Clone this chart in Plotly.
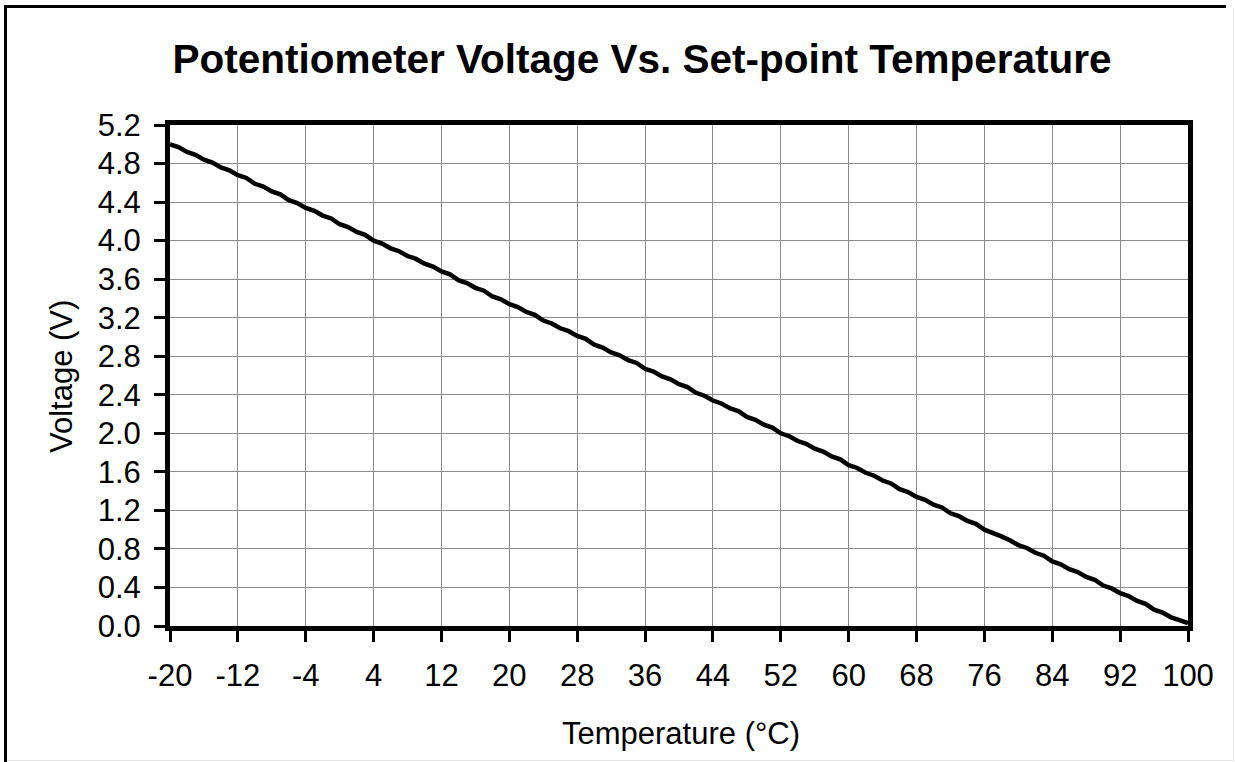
import plotly.graph_objects as go

# Data
temperature_c = list(range(-20, 101))
voltage_v = [
    5.00, 4.97, 4.92, 4.89, 4.84, 4.81, 4.76, 4.73, 4.68, 4.65,
    4.59, 4.56, 4.51, 4.48, 4.42, 4.39, 4.34, 4.31, 4.26, 4.23,
    4.17, 4.14, 4.09, 4.06, 4.00, 3.97, 3.92, 3.89, 3.84, 3.81,
    3.76, 3.73, 3.68, 3.65, 3.59, 3.56, 3.51, 3.48, 3.42, 3.39,
    3.34, 3.31, 3.26, 3.23, 3.17, 3.14, 3.09, 3.06, 3.01, 2.98,
    2.92, 2.89, 2.84, 2.81, 2.76, 2.73, 2.67, 2.64, 2.59, 2.56,
    2.51, 2.48, 2.42, 2.39, 2.34, 2.31, 2.26, 2.23, 2.17, 2.14,
    2.09, 2.06, 2.00, 1.97, 1.92, 1.89, 1.84, 1.81, 1.76, 1.73,
    1.67, 1.64, 1.59, 1.56, 1.51, 1.48, 1.42, 1.39, 1.34, 1.31,
    1.26, 1.23, 1.17, 1.14, 1.09, 1.06, 1.00, 0.97, 0.93, 0.89,
    0.84, 0.81, 0.76, 0.73, 0.67, 0.64, 0.59, 0.56, 0.51, 0.48,
    0.42, 0.39, 0.34, 0.31, 0.26, 0.23, 0.17, 0.14, 0.09, 0.06,
    0.03,
]
x_ticks = list(range(-20, 101, 8))
y_ticks = [round(0.4 * i, 1) for i in range(14)]
y_tick_labels = [f"{v:.1f}" for v in y_ticks]

title_text = "<b>Potentiometer Voltage Vs. Set-point Temperature</b>"
x_title = "Temperature (°C)"
y_title = "Voltage (V)"

FONT = "Arial, 'Liberation Sans', sans-serif"
W, H = 1235, 762
L, R, T, B = 170, 47, 125, 136
pw, ph = W - L - R, H - T - B

def px_x(px):
    return (px - L) / pw

def px_y(py):
    return (H - B - py) / ph

fig = go.Figure()
fig.add_trace(go.Scatter(
    x=temperature_c, y=voltage_v, mode="lines",
    line=dict(color="black", width=4.5),
    showlegend=False, hoverinfo="x+y",
))

fig.update_layout(
    width=W, height=H,
    margin=dict(l=L, r=R, t=T, b=B, pad=0),
    paper_bgcolor="white", plot_bgcolor="white",
    font=dict(family=FONT, size=31, color="black"),
    title=dict(text=title_text, x=642 / W, xanchor="center", xref="container",
               y=1 - 59 / H, yanchor="middle", yref="container",
               font=dict(family=FONT, size=40.5, color="black")),
    xaxis=dict(
        range=[-20, 100], tickmode="array", tickvals=x_ticks,
        ticktext=[str(v) for v in x_ticks],
        showgrid=True, gridcolor="#8c8c8c", gridwidth=1,
        showline=True, linecolor="black", linewidth=5, mirror=True,
        ticks="outside", ticklen=11, tickwidth=3, tickcolor="black",
        ticklabelstandoff=7, zeroline=False,
        tickfont=dict(family=FONT, size=31, color="black"),
    ),
    yaxis=dict(
        range=[0, 5.2], tickmode="array", tickvals=y_ticks, ticktext=y_tick_labels,
        showgrid=True, gridcolor="#8c8c8c", gridwidth=1,
        showline=True, linecolor="black", linewidth=5, mirror=True,
        ticks="outside", ticklen=11, tickwidth=3, tickcolor="black",
        ticklabelstandoff=7, zeroline=False,
        tickfont=dict(family=FONT, size=31, color="black"),
    ),
)

# Axis titles as annotations for precise placement
fig.add_annotation(text=x_title, xref="paper", yref="paper",
                   x=px_x(681), y=px_y(733), xanchor="center", yanchor="middle",
                   showarrow=False, font=dict(family=FONT, size=31, color="black"))
fig.add_annotation(text=y_title, xref="paper", yref="paper", textangle=-90,
                   x=px_x(61), y=px_y(377), xanchor="center", yanchor="middle",
                   showarrow=False, font=dict(family=FONT, size=31, color="black"))

# Outer chart border (black top/left, light grey right/bottom)
fig.add_shape(type="line", xref="paper", yref="paper",
              x0=px_x(4), x1=px_x(1226), y0=px_y(6.5), y1=px_y(6.5),
              line=dict(color="black", width=3))
fig.add_shape(type="line", xref="paper", yref="paper",
              x0=px_x(5.5), x1=px_x(5.5), y0=px_y(5), y1=px_y(762),
              line=dict(color="black", width=3))
fig.add_shape(type="line", xref="paper", yref="paper",
              x0=px_x(1233.5), x1=px_x(1233.5), y0=px_y(8), y1=px_y(761),
              line=dict(color="#e6e6e6", width=1))
fig.add_shape(type="line", xref="paper", yref="paper",
              x0=px_x(7), x1=px_x(1234), y0=px_y(760.5), y1=px_y(760.5),
              line=dict(color="#e6e6e6", width=1))

fig.write_html("out.html", config={"displayModeBar": False},
               post_script="document.body.style.margin='0px';")
